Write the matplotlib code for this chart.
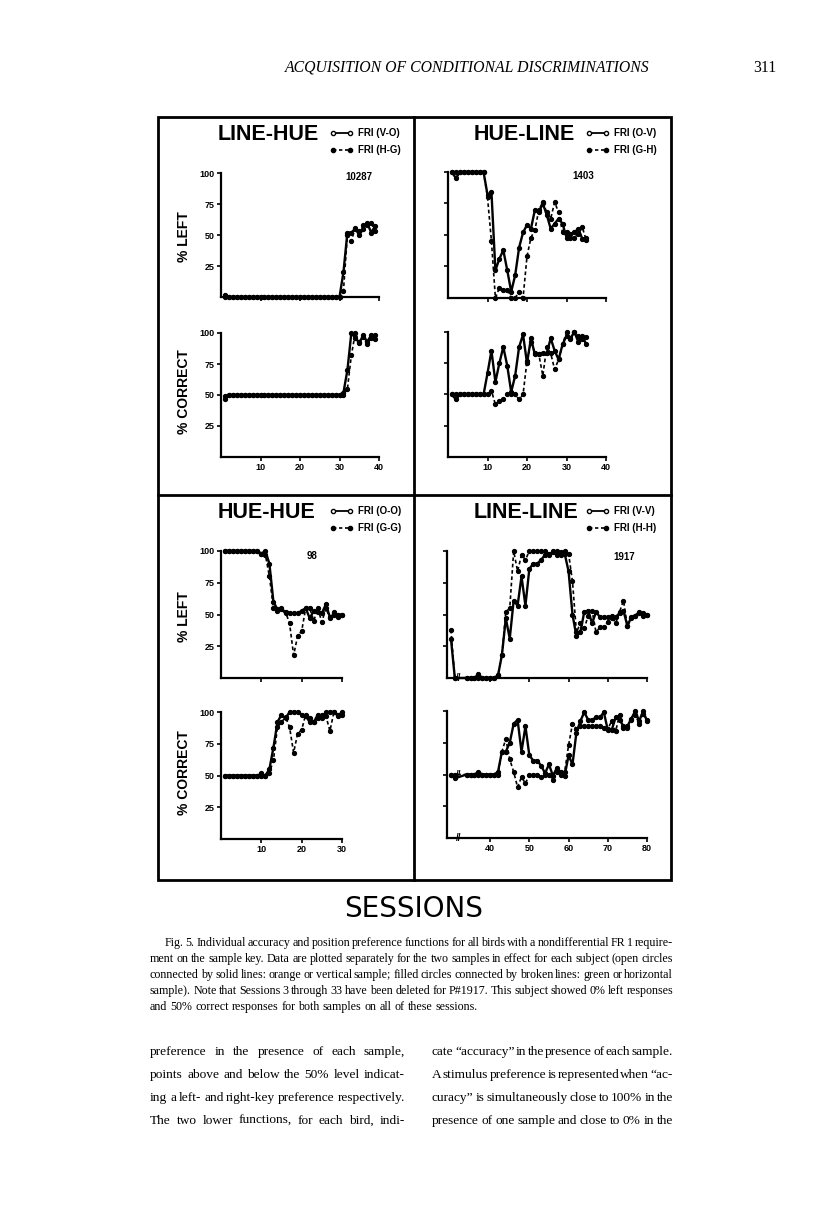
import matplotlib
matplotlib.use("Agg")
import matplotlib.pyplot as plt
from matplotlib.lines import Line2D
from matplotlib.patches import Rectangle

plt.rcParams['font.family'] = ['Liberation Sans', 'DejaVu Sans']

# ---------------- data ----------------
# LINE-HUE, bird 10287
sess_a = list(range(1, 40))
a_left_vo = [2, 0, 0, 0, 0, 0, 0, 0, 0, 0, 0, 0, 0, 0, 0, 0, 0, 0, 0, 0,
             0, 0, 0, 0, 0, 0, 0, 0, 0, 0, 20, 52, 52, 55, 50, 55, 60, 52, 57]
a_left_hg = [0, 0, 0, 0, 0, 0, 0, 0, 0, 0, 0, 0, 0, 0, 0, 0, 0, 0, 0, 0,
             0, 0, 0, 0, 0, 0, 0, 0, 0, 0, 5, 50, 45, 56, 53, 58, 58, 60, 53]
a_corr_vo = [47, 50, 50, 50, 50, 50, 50, 50, 50, 50, 50, 50, 50, 50, 50, 50, 50, 50, 50, 50,
             50, 50, 50, 50, 50, 50, 50, 50, 50, 50, 52, 70, 100, 96, 92, 98, 93, 98, 95]
a_corr_hg = [49, 50, 50, 50, 50, 50, 50, 50, 50, 50, 50, 50, 50, 50, 50, 50, 50, 50, 50, 50,
             50, 50, 50, 50, 50, 50, 50, 50, 50, 50, 50, 55, 82, 100, 93, 97, 91, 96, 98]

# HUE-LINE, bird 1403
sess_b = list(range(1, 36))
b_left_ov = [100, 95, 100, 100, 100, 100, 100, 100, 100, 82, 84, 22, 31, 38, 22, 5, 18, 40,
             52, 58, 55, 70, 68, 75, 66, 55, 59, 63, 59, 48, 51, 52, 55, 47, 48]
b_left_gh = [100, 100, 100, 100, 100, 100, 100, 100, 100, 80, 45, 0, 8, 6, 6, 0, 0, 5,
             0, 33, 48, 54, 70, 76, 68, 63, 76, 68, 52, 52, 48, 48, 51, 56, 46]
b_corr_ov = [50, 46, 50, 50, 50, 50, 50, 50, 50, 67, 85, 60, 75, 88, 73, 52, 65, 88,
             98, 75, 95, 82, 82, 83, 83, 95, 85, 78, 90, 97, 95, 100, 92, 97, 90]
b_corr_gh = [50, 50, 50, 50, 50, 50, 50, 50, 50, 50, 53, 42, 45, 46, 50, 50, 50, 46,
             50, 77, 92, 83, 82, 65, 88, 83, 70, 78, 90, 100, 94, 100, 97, 94, 96]

# HUE-HUE, bird 98
sess_c = list(range(1, 31))
c_left_oo = [100, 100, 100, 100, 100, 100, 100, 100, 100, 98, 100, 90, 60, 54, 54,
             51, 51, 51, 51, 53, 55, 47, 53, 52, 51, 58, 48, 50, 50, 50]
c_left_gg = [100, 100, 100, 100, 100, 100, 100, 100, 100, 98, 97, 80, 55, 53, 55,
             52, 43, 18, 33, 37, 55, 55, 45, 55, 44, 55, 47, 52, 48, 50]
c_corr_oo = [50, 50, 50, 50, 50, 50, 50, 50, 50, 50, 50, 55, 72, 92, 98,
             95, 100, 100, 100, 98, 97, 92, 92, 98, 95, 100, 100, 100, 97, 100]
c_corr_gg = [50, 50, 50, 50, 50, 50, 50, 50, 50, 52, 50, 52, 62, 88, 92,
             96, 88, 68, 83, 86, 98, 95, 92, 95, 98, 97, 85, 100, 98, 98]

# LINE-LINE, bird 1917 (sessions 3-33 deleted)
sess_d = [1, 2] + list(range(34, 81))
d_left_vv = [31, 0, 0, 0, 0, 3, 0, 0, 0, 0, 2, 18, 47, 31, 61, 57, 80, 57, 86, 90,
             90, 93, 97, 97, 99, 97, 99, 98, 84, 50, 33, 36, 52, 53, 43, 52, 48, 48,
             48, 47, 48, 51, 53, 41, 48, 49, 52, 51, 50]
d_left_hh = [38, 0, 0, 0, 0, 0, 0, 0, 0, 0, 2, 18, 52, 55, 100, 84, 97, 93, 100, 100,
             100, 100, 100, 98, 100, 100, 97, 100, 98, 76, 36, 43, 39, 49, 53, 36, 40, 40,
             44, 49, 43, 52, 61, 41, 47, 49, 51, 49, 50]
d_corr_vv = [50, 47, 50, 50, 50, 52, 50, 50, 50, 50, 52, 68, 68, 75, 90, 93, 68, 88, 65, 61,
             61, 57, 51, 58, 49, 55, 52, 49, 65, 58, 83, 92, 99, 93, 93, 95, 95, 99,
             85, 85, 95, 93, 88, 88, 94, 100, 92, 100, 92]
d_corr_hh = [50, 50, 50, 50, 50, 50, 50, 50, 50, 50, 50, 68, 78, 62, 52, 40, 48, 43, 50, 50,
             50, 48, 50, 50, 46, 52, 50, 52, 73, 90, 86, 88, 88, 88, 88, 88, 88, 87,
             86, 92, 84, 97, 87, 87, 93, 97, 90, 98, 93]


def broken_axis(sessions):
    # sessions 1-2 are drawn just before the break, the rest at their own value
    return [s + 29 if s < 3 else s for s in sessions]


W, H = 816, 1207
fig = plt.figure(figsize=(W / 100, H / 100), dpi=100)


def box(l, t, r, b):
    return [l / W, 1 - b / H, (r - l) / W, (b - t) / H]


def fx(px):
    return px / W


def fy(py):
    return 1 - py / H


panels = [
    dict(name='LINE-HUE', bird='10287', keys=('FRI (V-O)', 'FRI (H-G)'), org=(158, 117),
         x=sess_a, left=(a_left_vo, a_left_hg), corr=(a_corr_vo, a_corr_hg),
         xlim=(0, 40), xticks=[10, 20, 30, 40], up=(221, 173, 379, 297), lo=(221, 333, 379, 457),
         ylab=True, bird_xy=(345, 177)),
    dict(name='HUE-LINE', bird='1403', keys=('FRI (O-V)', 'FRI (G-H)'), org=(414, 117),
         x=sess_b, left=(b_left_ov, b_left_gh), corr=(b_corr_ov, b_corr_gh),
         xlim=(0, 40), xticks=[10, 20, 30, 40], up=(448, 172, 606, 298), lo=(448, 332, 606, 457),
         ylab=False, bird_xy=(572, 176)),
    dict(name='HUE-HUE', bird='98', keys=('FRI (O-O)', 'FRI (G-G)'), org=(158, 495),
         x=sess_c, left=(c_left_oo, c_left_gg), corr=(c_corr_oo, c_corr_gg),
         xlim=(0, 30), xticks=[10, 20, 30], up=(221, 551, 342, 678), lo=(221, 712, 342, 839),
         ylab=True, bird_xy=(307, 556)),
    dict(name='LINE-LINE', bird='1917', keys=('FRI (V-V)', 'FRI (H-H)'), org=(414, 495),
         x=broken_axis(sess_d), left=(d_left_vv, d_left_hh), corr=(d_corr_vv, d_corr_hh),
         xlim=(29, 80), xticks=[40, 50, 60, 70, 80], up=(447, 551, 647, 678), lo=(447, 711, 647, 838),
         ylab=False, bird_xy=(613, 557)),
]

solid_kw = dict(color='black', lw=1.7, marker='o', ms=2.8, mfc='black', mec='black', clip_on=False)
dash_kw = dict(color='black', lw=1.2, ls=(0, (2.2, 1.6)), marker='o', ms=2.8, mfc='black',
               mec='black', clip_on=False)


def style(ax, p, labels):
    ax.set_xlim(*p['xlim'])
    ax.set_ylim(0, 100)
    for s in ['top', 'right']:
        ax.spines[s].set_visible(False)
    for s in ['left', 'bottom']:
        ax.spines[s].set_linewidth(1.6)
    ax.set_yticks([25, 50, 75, 100])
    ax.set_xticks(p['xticks'])
    ax.tick_params(length=3, width=1.2, direction='out', labelsize=6.5, pad=1.5)
    ax.patch.set_alpha(0)
    if not p['ylab']:
        ax.set_yticklabels([])
    if not labels:
        ax.set_xticklabels([])
    for t in ax.get_xticklabels() + ax.get_yticklabels():
        t.set_fontweight('bold')


for p in panels:
    ox, oy = p['org']
    ax_up = fig.add_axes(box(*p['up']))
    ax_lo = fig.add_axes(box(*p['lo']))
    ax_up.plot(p['x'], p['left'][0], **solid_kw)
    ax_up.plot(p['x'], p['left'][1], **dash_kw)
    ax_lo.plot(p['x'], p['corr'][0], **solid_kw)
    ax_lo.plot(p['x'], p['corr'][1], **dash_kw)
    style(ax_up, p, False)
    style(ax_lo, p, True)

    fig.text(fx(ox + 60), fy(oy + 17), p['name'], fontsize=15.5, fontweight='bold',
             ha='left', va='center')
    fig.text(fx(p['bird_xy'][0]), fy(p['bird_xy'][1]), p['bird'], fontsize=7, fontweight='bold',
             ha='left', va='center')

    handles = [Line2D([], [], color='black', lw=1.3, marker='o', ms=3, mfc='white', mec='black'),
               Line2D([], [], color='black', lw=1.2, ls=(0, (2, 1.6)), marker='o', ms=3,
                      mfc='black', mec='black')]
    ax_up.legend(handles, p['keys'], loc='upper left', numpoints=2,
                 bbox_to_anchor=(fx(ox + 172), fy(oy + 11)), bbox_transform=fig.transFigure,
                 frameon=False, handlelength=2.4, handletextpad=0.5, labelspacing=0.75,
                 borderpad=0, borderaxespad=0, prop=dict(size=7, weight='bold'))

    if p['ylab']:
        fig.text(fx(184), fy((p['up'][1] + p['up'][3]) / 2 + 2), '% LEFT', rotation=90,
                 fontsize=10, fontweight='bold', ha='center', va='center')
        fig.text(fx(184), fy((p['lo'][1] + p['lo'][3]) / 2 - 3), '% CORRECT', rotation=90,
                 fontsize=10, fontweight='bold', ha='center', va='center')

    if p['name'] == 'LINE-LINE':
        for a, yv in [(ax_up, 0), (ax_lo, 50), (ax_lo, 0)]:
            a.text(31.9, yv, '//', fontsize=7, fontweight='bold', ha='center', va='center')

# frame of the figure
fig.add_artist(Rectangle((fx(158), fy(880)), (671 - 158) / W, (880 - 117) / H, fill=False,
                         lw=2, ec='black', transform=fig.transFigure))
fig.add_artist(Line2D([fx(414), fx(414)], [fy(117), fy(880)], lw=2, color='black',
                      transform=fig.transFigure))
fig.add_artist(Line2D([fx(158), fx(671)], [fy(495), fy(495)], lw=2, color='black',
                      transform=fig.transFigure))

fig.text(fx(414), fy(909), 'SESSIONS', fontsize=20, family='DejaVu Sans', ha='center', va='center')

# page text
fig.text(fx(467), fy(68), 'ACQUISITION OF CONDITIONAL DISCRIMINATIONS', fontsize=11.3,
         family='Liberation Serif', style='italic', ha='center', va='center')
fig.text(fx(776), fy(68), '311', fontsize=11.3, family='Liberation Serif', ha='right', va='center')

renderer = fig.canvas.get_renderer()
SERIF = 'Liberation Serif'


def width_of(s, size):
    t = fig.text(0, 0, s, fontsize=size, family=SERIF)
    w = t.get_window_extent(renderer).width
    t.remove()
    return w


def fit_size(lines, size, gap_factor):
    # largest size (<= size) at which every justified line fits when its word gaps
    # are squeezed to gap_factor of a normal space
    best = size
    space = width_of('x x', size) - width_of('xx', size)
    for text, x0, x1, just in lines:
        if just:
            words = text.split(' ')
            need = sum(width_of(w, size) for w in words) + gap_factor * space * (len(words) - 1)
            best = min(best, size * (x1 - x0) / need)
    return best


def put_line(text, x0, x1, y, size, justify=True):
    words = text.split(' ')
    arts = [fig.text(0, fy(y), w, fontsize=size, family=SERIF, ha='left',
                     va='baseline') for w in words]
    widths = [a.get_window_extent(renderer).width for a in arts]
    space = width_of('x x', size) - width_of('xx', size)
    gap = (x1 - x0 - sum(widths)) / (len(words) - 1) if justify and len(words) > 1 else space
    x = x0
    for a, w in zip(arts, widths):
        a.set_x(fx(x))
        x += w + gap


caption = [
    ('Fig. 5. Individual accuracy and position preference functions for all birds with a nondifferential FR 1 require-', 165, 673, True),
    ('ment on the sample key. Data are plotted separately for the two samples in effect for each subject (open circles', 150, 673, True),
    ('connected by solid lines: orange or vertical sample; filled circles connected by broken lines: green or horizontal', 150, 673, True),
    ('sample). Note that Sessions 3 through 33 have been deleted for P#1917. This subject showed 0% left responses', 150, 673, True),
    ('and 50% correct responses for both samples on all of these sessions.', 150, 673, False),
]
cap_size = fit_size(caption, 9.0, 0.6)
for i, (line, x0, x1, just) in enumerate(caption):
    put_line(line, x0, x1, 946 + 16 * i, cap_size, just)

body = [
    ('preference in the presence of each sample,', 150, 405, True),
    ('points above and below the 50% level indicat-', 150, 405, True),
    ('ing a left- and right-key preference respectively.', 150, 405, True),
    ('The two lower functions, for each bird, indi-', 150, 405, True),
    ('cate \u201caccuracy\u201d in the presence of each sample.', 432, 673, True),
    ('A stimulus preference is represented when \u201cac-', 432, 673, True),
    ('curacy\u201d is simultaneously close to 100% in the', 432, 673, True),
    ('presence of one sample and close to 0% in the', 432, 673, True),
]
body_size = fit_size(body, 12.5, 0.3)
for i, (line, x0, x1, just) in enumerate(body):
    put_line(line, x0, x1, 1055 + 23 * (i % 4), body_size, just)

fig.savefig('out.png', dpi=100, facecolor='white')
